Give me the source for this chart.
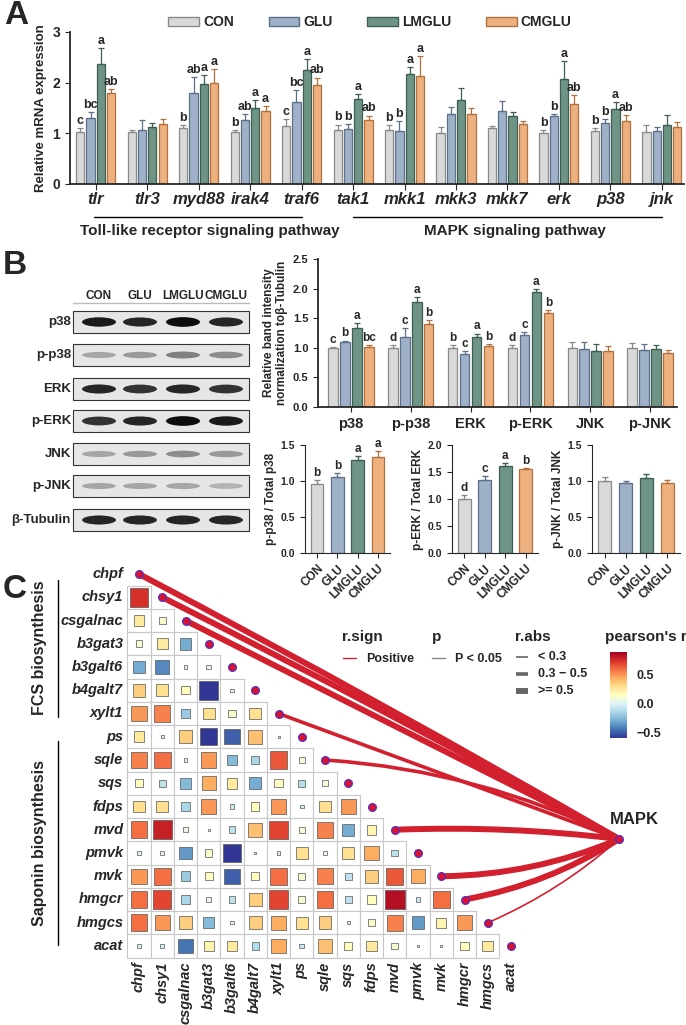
import numpy as np, pandas as pd, matplotlib
matplotlib.use("Agg")
import matplotlib.pyplot as plt, seaborn as sns
from matplotlib.patches import Rectangle, FancyArrowPatch, Ellipse
from matplotlib.colors import Normalize

sns.set_style("ticks")
plt.rcParams['font.family'] = ['Liberation Sans', 'DejaVu Sans']
plt.rcParams['font.weight'] = 'bold'
plt.rcParams['axes.labelweight'] = 'bold'

groups = ["CON", "GLU", "LMGLU", "CMGLU"]
palette = ["#d9d9d9", "#9fb0c9", "#6e9485", "#eeb07f"]
edges = ["#8a8a8a", "#5e6f88", "#3f5e52", "#b0713e"]

# Panel A
genes_a = ["tlr", "tlr3", "myd88", "irak4", "traf6", "tak1", "mkk1", "mkk3", "mkk7", "erk", "p38", "jnk"]
con_a = [1.02, 1.03, 1.10, 1.02, 1.15, 1.07, 1.06, 1.01, 1.10, 1.01, 1.05, 1.03]
glu_a = [1.30, 1.07, 1.79, 1.27, 1.62, 1.08, 1.05, 1.38, 1.45, 1.35, 1.21, 1.05]
lm_a = [2.36, 1.13, 1.98, 1.50, 2.25, 1.68, 2.18, 1.65, 1.35, 2.08, 1.48, 1.16]
cm_a = [1.80, 1.18, 1.99, 1.45, 1.96, 1.27, 2.13, 1.38, 1.18, 1.58, 1.25, 1.13]
con_a_err = [0.08, 0.04, 0.06, 0.05, 0.13, 0.10, 0.10, 0.11, 0.04, 0.06, 0.05, 0.13]
glu_a_err = [0.12, 0.20, 0.32, 0.11, 0.23, 0.10, 0.19, 0.13, 0.18, 0.03, 0.07, 0.07]
lm_a_err = [0.32, 0.07, 0.17, 0.15, 0.21, 0.09, 0.12, 0.25, 0.08, 0.34, 0.13, 0.20]
cm_a_err = [0.07, 0.10, 0.28, 0.08, 0.14, 0.08, 0.39, 0.12, 0.06, 0.17, 0.11, 0.09]
letters_a = [["c", "bc", "a", "ab"], ["", "", "", ""], ["b", "ab", "a", "a"], ["b", "ab", "a", "a"],
             ["c", "bc", "a", "ab"], ["b", "b", "a", "ab"], ["b", "b", "a", "a"], ["", "", "", ""],
             ["", "", "", ""], ["b", "b", "a", "ab"], ["b", "b", "a", "ab"], ["", "", "", ""]]

# Panel B
prot_b = ["p38", "p-p38", "ERK", "p-ERK", "JNK", "p-JNK"]
con_b = [1.00, 1.00, 1.00, 1.00, 1.00, 1.00]
glu_b = [1.09, 1.19, 0.90, 1.22, 0.98, 0.96]
lm_b = [1.33, 1.78, 1.19, 1.95, 0.95, 0.98]
cm_b = [1.02, 1.41, 1.03, 1.59, 0.95, 0.92]
con_b_err = [0.01, 0.05, 0.05, 0.05, 0.10, 0.08]
glu_b_err = [0.03, 0.14, 0.04, 0.05, 0.12, 0.11]
lm_b_err = [0.09, 0.08, 0.05, 0.04, 0.12, 0.07]
cm_b_err = [0.03, 0.06, 0.03, 0.05, 0.08, 0.05]
letters_b = [["c", "b", "a", "bc"], ["d", "c", "a", "b"], ["b", "c", "a", "b"], ["d", "c", "a", "b"],
             ["", "", "", ""], ["", "", "", ""]]

ratio_labels = ["p-p38 / Total p38", "p-ERK / Total ERK", "p-JNK / Total JNK"]
ratio_vals = [[0.96, 1.05, 1.29, 1.33], [1.00, 1.35, 1.62, 1.55], [1.00, 0.97, 1.04, 0.97]]
ratio_err = [[0.05, 0.06, 0.06, 0.08], [0.08, 0.07, 0.04, 0.02], [0.05, 0.03, 0.06, 0.05]]
ratio_letters = [["b", "b", "a", "a"], ["d", "c", "a", "b"], ["", "", "", ""]]
ratio_ylim = [1.5, 2.0, 1.5]

blot_rows = ["p38", "p-p38", "ERK", "p-ERK", "JNK", "p-JNK", "β-Tubulin"]
blot_intensity = [[0.9, 0.85, 0.95, 0.85], [0.35, 0.4, 0.5, 0.45], [0.85, 0.8, 0.85, 0.8],
                  [0.8, 0.85, 0.95, 0.9], [0.35, 0.4, 0.45, 0.4], [0.35, 0.35, 0.35, 0.3],
                  [0.85, 0.85, 0.85, 0.85]]

# Panel C
genes_c = ["chpf", "chsy1", "csgalnac", "b3gat3", "b3galt6", "b4galt7", "xylt1", "ps", "sqle", "sqs",
           "fdps", "mvd", "pmvk", "mvk", "hmgcr", "hmgcs", "acat"]
corr_rows = [
    [],
    [0.75],
    [0.25, 0.12],
    [0.10, 0.25, -0.30],
    [-0.30, -0.40, 0.02, 0.05],
    [0.35, 0.30, 0.15, -0.75, 0.02],
    [0.50, 0.55, -0.20, 0.30, 0.12, 0.30],
    [0.25, 0.02, 0.35, -0.60, -0.50, 0.40, 0.00],
    [0.55, 0.60, 0.03, 0.50, -0.25, -0.15, 0.65, 0.08],
    [0.15, -0.10, -0.25, 0.45, 0.25, -0.30, 0.15, -0.12, 0.08],
    [0.30, 0.30, -0.15, 0.50, -0.05, 0.15, 0.50, -0.03, 0.30, 0.50],
    [0.60, 0.80, 0.05, 0.01, -0.10, 0.40, 0.70, 0.08, 0.55, -0.30, 0.20],
    [0.02, 0.03, -0.35, 0.12, -0.70, 0.00, 0.02, 0.30, 0.05, 0.30, 0.45, -0.10],
    [0.50, 0.60, -0.20, 0.15, -0.50, 0.15, 0.60, 0.10, 0.55, -0.10, 0.35, 0.65, 0.45],
    [0.60, 0.70, -0.15, 0.05, -0.10, 0.35, 0.70, 0.10, 0.60, -0.10, 0.15, 0.85, -0.05, 0.60],
    [0.60, 0.50, 0.35, -0.25, 0.02, 0.35, 0.45, 0.30, 0.35, 0.02, 0.12, 0.55, -0.35, 0.20, 0.50],
    [-0.03, -0.03, -0.45, 0.20, 0.25, -0.12, 0.45, -0.05, 0.40, 0.15, 0.25, 0.10, 0.00, 0.00, 0.15, 0.25],
]
mantel_genes = ["chpf", "chsy1", "csgalnac", "xylt1", "sqle", "mvd", "mvk", "hmgcr", "hmgcs"]
mantel_class = [">=0.5", ">=0.5", ">=0.5", "0.3-0.5", "0.3-0.5", ">=0.5", ">=0.5", ">=0.5", "<0.3"]
mantel_rad = [-0.01, -0.01, 0.0, 0.0, -0.1, -0.04, 0.1, 0.1, 0.08]

W, H = 686, 1025
fig = plt.figure(figsize=(W / 100, H / 100), dpi=100)

def axpx(l, t, w, h):
    return fig.add_axes([l / W, 1 - (t + h) / H, w / W, h / H])

def grouped(ax, cats, vals, errs, letters, fs_letter=9):
    df = pd.DataFrame({"cat": np.repeat(cats, 4), "grp": groups * len(cats),
                       "v": np.array(vals).T.ravel()})
    sns.barplot(data=df, x="cat", y="v", hue="grp", hue_order=groups, palette=palette,
                ax=ax, width=0.8, errorbar=None, legend=False, saturation=1)
    errs = np.array(errs)
    conts = list(ax.containers)
    for g, cont in enumerate(conts):
        for k, bar in enumerate(cont):
            bar.set_edgecolor(edges[g]); bar.set_linewidth(0.9)
            w0 = bar.get_width()
            bar.set_width(w0 * 0.8)
            bar.set_x(bar.get_x() + w0 * 0.1)
            xc = bar.get_x() + bar.get_width() / 2
            v = bar.get_height(); e = errs[g][k]
            ax.errorbar(xc, v, yerr=[[0], [e]], color=edges[g], capsize=2, lw=0.9, capthick=0.9)
            if letters[k][g]:
                ax.text(xc, v + e + 0.01 * ax.get_ylim()[1], letters[k][g], ha="center", va="bottom",
                        fontsize=fs_letter, fontweight="bold")
    ax.set_xlabel(""); ax.set_ylabel("")
    sns.despine(ax=ax)
    for s in ["left", "bottom"]:
        ax.spines[s].set_linewidth(1.3)

# ---- Panel A
axA = axpx(70, 32, 614, 152)
grouped(axA, genes_a, [con_a, glu_a, lm_a, cm_a], [con_a_err, glu_a_err, lm_a_err, cm_a_err], letters_a)
axA.set_ylim(0, 3); axA.set_yticks([0, 1, 2, 3])
axA.set_xlim(-0.5, 11.43)
axA.set_xticks(range(12)); axA.set_xticklabels(genes_a, fontstyle="italic", fontsize=12, fontweight="bold")
axA.tick_params(axis="x", length=4, pad=2); axA.tick_params(axis="y", labelsize=10)
axA.set_ylabel("Relative mRNA expression", fontsize=9.5, labelpad=4)
fig.text(16 / W, 1 - 16 / H, "A", fontsize=24, fontweight="bold", va="center", ha="center")
handles = [Rectangle((0, 0), 1, 1, facecolor=palette[i], edgecolor=edges[i]) for i in range(4)]
fig.legend(handles, groups, ncol=4, loc="center", bbox_to_anchor=(370 / W, 1 - 22 / H), frameon=False,
           fontsize=10, handlelength=2.2, handleheight=0.6, columnspacing=2.5, handletextpad=0.3)
ov = fig.add_axes([0, 0, 1, 1], zorder=-1); ov.set_xlim(0, W); ov.set_ylim(H, 0); ov.axis("off")
ov.plot([94, 302], [217, 217], color="black", lw=1)
ov.plot([353, 662], [217, 217], color="black", lw=1)
ov.text(210, 231, "Toll-like receptor signaling pathway", ha="center", va="center", fontsize=11, fontweight="bold")
ov.text(515, 231, "MAPK signaling pathway", ha="center", va="center", fontsize=11, fontweight="bold")

# ---- Panel B blot
ov.text(15, 265, "B", fontsize=24, fontweight="bold", va="center", ha="center")
lane_x = [99, 140, 183, 226]
ov.plot([73, 249], [303, 303], color="#bbbbbb", lw=1)
for k, g in enumerate(groups):
    ov.text(lane_x[k], 296, g, ha="center", va="center", fontsize=8.5, fontweight="bold")
row_y = [322, 355, 389, 421, 454, 486, 520]
for r, name in enumerate(blot_rows):
    y = row_y[r]
    ov.add_patch(Rectangle((73, y - 11), 176, 22, facecolor="#e6e6e6", edgecolor="#333333", lw=0.8))
    ov.text(71, y, name, ha="right", va="center", fontsize=9.5, fontweight="bold")
    for k in range(4):
        it = blot_intensity[r][k]
        ov.add_patch(Ellipse((lane_x[k], y), 34, 4 + 6 * it, facecolor=str(round(1 - it, 2)), edgecolor="none"))

# ---- Panel B main bars
axB = axpx(318, 259, 359, 148)
grouped(axB, prot_b, [con_b, glu_b, lm_b, cm_b], [con_b_err, glu_b_err, lm_b_err, cm_b_err], letters_b, 8.5)
axB.set_ylim(0, 2.5); axB.set_yticks([0, 0.5, 1.0, 1.5, 2.0, 2.5])
axB.set_xlim(-0.55, 5.45)
axB.set_xticks(range(6)); axB.set_xticklabels(prot_b, fontsize=10.5, fontweight="bold")
axB.tick_params(labelsize=8)
axB.tick_params(axis="x", labelsize=10.5)
axB.set_ylabel("Relative band intensity\nnormalization toβ-Tubulin", fontsize=8.5, labelpad=3)

small_pos = [(305, 85), (452, 86), (592, 88)]
for i in range(3):
    ax = axpx(small_pos[i][0], 445, small_pos[i][1], 108)
    df = pd.DataFrame({"grp": groups, "v": ratio_vals[i]})
    sns.barplot(data=df, x="grp", y="v", hue="grp", palette=palette, ax=ax, width=0.62,
                errorbar=None, legend=False, saturation=1)
    bars = list(ax.patches)
    for g, bar in enumerate(bars):
        bar.set_edgecolor(edges[g]); bar.set_linewidth(0.9)
        xc = bar.get_x() + bar.get_width() / 2
        v = bar.get_height(); e = ratio_err[i][g]
        ax.errorbar(xc, v, yerr=[[0], [e]], color=edges[g], capsize=2, lw=0.9)
        if ratio_letters[i][g]:
            ax.text(xc, v + e + 0.01 * ratio_ylim[i], ratio_letters[i][g], ha="center", va="bottom",
                    fontsize=8.5, fontweight="bold")
    ax.set_ylim(0, ratio_ylim[i])
    ax.set_yticks(np.arange(0, ratio_ylim[i] + 0.01, 0.5))
    ax.set_xlim(-0.6, 3.6)
    ax.set_xticks(range(4)); ax.set_xticklabels(groups, rotation=45, ha="right", rotation_mode="anchor", fontsize=8.5)
    ax.tick_params(axis="y", labelsize=7.5)
    ax.set_xlabel(""); ax.set_ylabel(ratio_labels[i], fontsize=8.5, labelpad=3)
    sns.despine(ax=ax)

# ---- Panel C
ov2 = fig.add_axes([0, 0, 1, 1]); ov2.set_xlim(0, W); ov2.set_ylim(H, 0); ov2.axis("off")
ov2.text(15, 590, "C", fontsize=24, fontweight="bold", va="center", ha="center")
cmap = plt.get_cmap("RdYlBu_r"); norm = Normalize(-0.6, 0.9)
x0, y0, step = 139.0, 574.0, 23.25
mpx, mpy = 619, 839
for i, row in enumerate(corr_rows):
    for j, r in enumerate(row):
        cx, cy = x0 + j * step, y0 + i * step
        ov2.add_patch(Rectangle((cx - step / 2, cy - step / 2), step, step, facecolor="white",
                                edgecolor="#c8c8c8", lw=0.8))
        s = max(2.0, 20.5 * np.sqrt(min(abs(r), 0.9) / 0.9))
        ov2.add_patch(Rectangle((cx - s / 2, cy - s / 2), s, s, facecolor=cmap(norm(r)),
                                edgecolor="#555555", lw=0.5))
    ov2.text(x0 - step / 2 - 4, y0 + i * step, genes_c[i], ha="right", va="center", fontsize=10.5,
             fontstyle="italic", fontweight="bold")
    ov2.text(x0 + i * step, y0 + 16 * step + step / 2 + 4, genes_c[i], ha="center", va="top", rotation=90,
             fontsize=10.5, fontstyle="italic", fontweight="bold")
lwmap = {"<0.3": 1.2, "0.3-0.5": 2.6, ">=0.5": 4.3}
for g, c, rad in zip(mantel_genes, mantel_class, mantel_rad):
    i = genes_c.index(g)
    px, py = x0 + i * step, y0 + i * step
    ov2.add_patch(FancyArrowPatch((px, py), (mpx, mpy), connectionstyle=f"arc3,rad={rad}",
                                  arrowstyle="-", color="#d3202f", lw=lwmap[c], zorder=2))
for i in range(17):
    ov2.scatter(x0 + i * step, y0 + i * step, s=30, facecolor="#e0102a", edgecolor="#5a2dbf", lw=1, zorder=5)
ov2.scatter(mpx, mpy, s=30, facecolor="#e0102a", edgecolor="#5a2dbf", lw=1, zorder=5)
ov2.text(mpx + 15, 819, "MAPK", ha="center", va="center", fontsize=12, fontweight="bold")
ov2.plot([58, 58], [580, 717], color="black", lw=1)
ov2.plot([58, 58], [741, 945], color="black", lw=1)
ov2.text(40, 648, "FCS biosynthesis", rotation=90, ha="center", va="center", fontsize=11.5, fontweight="bold")
ov2.text(40, 843, "Saponin biosynthesis", rotation=90, ha="center", va="center", fontsize=11.5, fontweight="bold")
# legend
ov2.text(342, 637, "r.sign", ha="left", va="center", fontsize=11, fontweight="bold")
ov2.plot([343, 356], [658, 658], color="#d3202f", lw=1, zorder=6)
ov2.text(366, 659, "Positive", ha="left", va="center", fontsize=9, fontweight="bold")
ov2.text(432, 637, "p", ha="left", va="center", fontsize=11, fontweight="bold")
ov2.plot([432, 445], [658, 658], color="#888888", lw=1)
ov2.text(455, 659, "P < 0.05", ha="left", va="center", fontsize=9, fontweight="bold")
ov2.text(515, 637, "r.abs", ha="left", va="center", fontsize=11, fontweight="bold")
for k, (lab, lw) in enumerate([("< 0.3", 1.2), ("0.3 − 0.5", 2.6), (">= 0.5", 4.3)]):
    yy = 657 + k * 17
    ov2.plot([516, 528], [yy, yy], color="#666666", lw=lw, solid_capstyle="butt")
    ov2.text(538, yy, lab, ha="left", va="center", fontsize=9, fontweight="bold")
ov2.text(605, 637, "pearson's r", ha="left", va="center", fontsize=11, fontweight="bold")
cax = axpx(610, 652, 17, 86)
cb = fig.colorbar(matplotlib.cm.ScalarMappable(norm=norm, cmap=cmap), cax=cax, ticks=[-0.5, 0, 0.5])
cb.ax.set_yticklabels(["−0.5", "0.0", "0.5"], fontsize=9, fontweight="bold")
cb.outline.set_visible(False); cb.ax.tick_params(length=3, color="white")

fig.savefig("out.png", dpi=100)
